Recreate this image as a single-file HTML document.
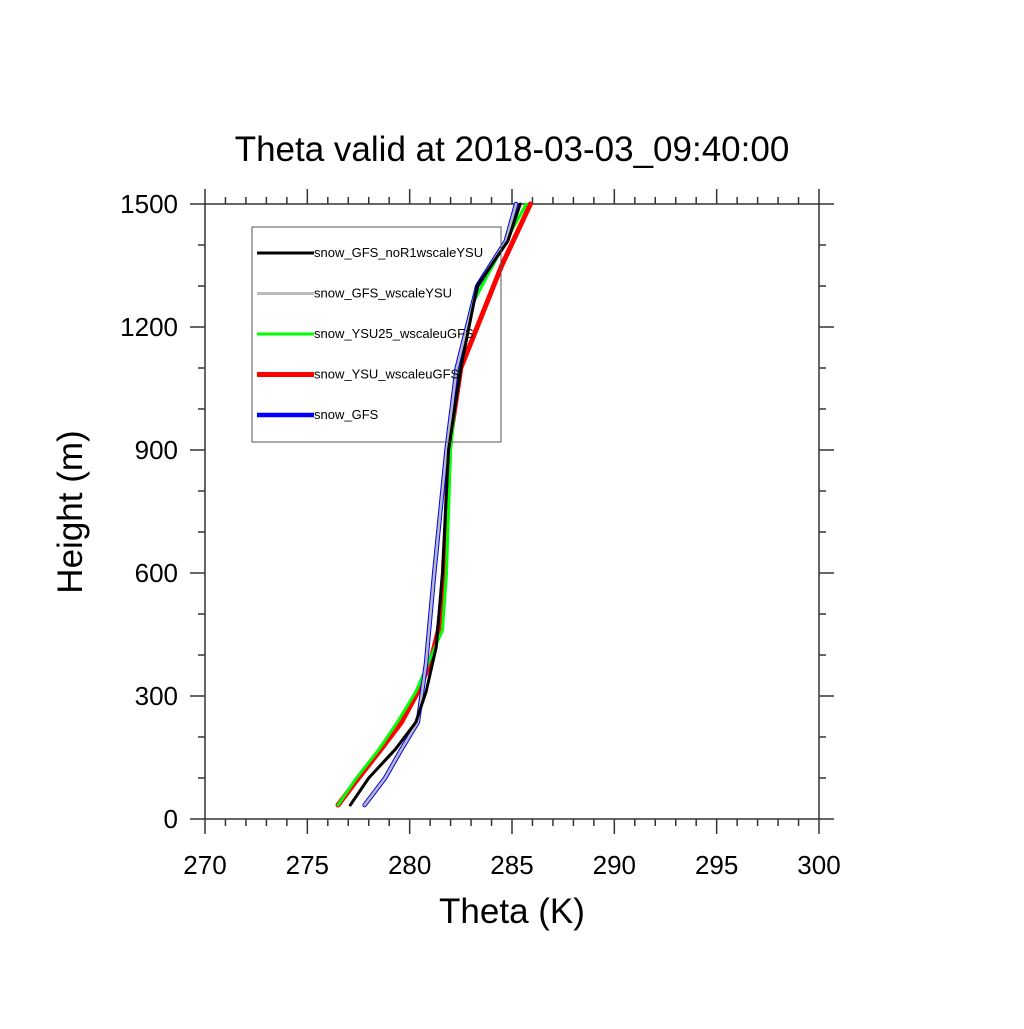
<!DOCTYPE html>
<html><head><meta charset="utf-8"><style>body{margin:0;background:#fff}</style></head>
<body>
<svg id="chart" width="1024" height="1024" xmlns="http://www.w3.org/2000/svg" font-family="Liberation Sans, sans-serif">
<rect width="1024" height="1024" fill="#fff"/>
<text x="512" y="161" font-size="35" text-anchor="middle">Theta valid at 2018-03-03_09:40:00</text>
<text x="512" y="923" font-size="35" text-anchor="middle">Theta (K)</text>
<text x="0" y="0" font-size="35" text-anchor="middle" transform="translate(82,512) rotate(-90)">Height (m)</text>
<g id="axes"></g>
<g id="series"></g>
<g id="legend"></g>
</svg>
<script>
const xTicks=[270,275,280,285,290,295,300];
const yTicks=[0,300,600,900,1200,1500];
const seriesNames=["snow_GFS_noR1wscaleYSU","snow_GFS_wscaleYSU","snow_YSU25_wscaleuGFS","snow_YSU_wscaleuGFS","snow_GFS"];
const blackTheta=[277.1,278.0,279.3,280.3,280.8,281.3,281.6,281.9,282.5,283.3,284.8,285.4];
const blackH=[34,100,170,236,310,420,600,900,1100,1300,1410,1500];
const gfsTheta=[277.8,278.8,279.6,280.4,280.8,281.2,281.8,282.3,283.3,284.7,285.2];
const gfsH=[34,100,170,236,380,600,900,1100,1300,1410,1500];
const greenTheta=[276.5,277.4,278.5,279.4,280.3,280.9,281.6,281.8,282.0,282.4,283.0,284.7,285.7];
const greenH=[34,100,170,236,310,380,460,600,900,1100,1250,1410,1500];
const redTheta=[276.5,277.5,278.6,279.6,280.4,281.0,281.4,281.7,281.9,282.5,283.3,284.5,285.9];
const redH=[34,100,170,236,310,380,460,600,900,1100,1200,1350,1500];

const NS="http://www.w3.org/2000/svg";
const X0=205,X1=819,Y0=819,Y1=204;
const sx=v=>X0+(v-270)/30*(X1-X0);
const sy=v=>Y0-(v/1500)*(Y0-Y1);
function mk(tag,attrs,parent){const e=document.createElementNS(NS,tag);for(const k in attrs)e.setAttribute(k,attrs[k]);parent.appendChild(e);return e;}
const axes=document.getElementById('axes');
const frame=mk('rect',{x:X0,y:Y1,width:X1-X0,height:Y0-Y1,fill:'none',stroke:'#333','stroke-width':1.5},axes);


let d='';
for(let v=270;v<=300;v++){const L=(v%5===0)?15:7;const x=sx(v);d+=`M${x},${Y0}v${L}M${x},${Y1}v${-L}`;}
for(let v=0;v<=1500;v+=100){const L=(v%300===0)?15:7;const y=sy(v);d+=`M${X0},${y}h${-L}M${X1},${y}h${L}`;}
const ticks=mk('path',{d:d,stroke:'#333','stroke-width':1.5,fill:'none'},axes);


xTicks.forEach(v=>{const t=mk('text',{x:sx(v),y:874,'font-size':26,'text-anchor':'middle'},axes);t.textContent=v;

});
yTicks.forEach(v=>{const t=mk('text',{x:178,y:sy(v)+9,'font-size':26,'text-anchor':'end'},axes);t.textContent=v;

});
const ser=document.getElementById('series');
function line(th,h,color,w,name){const p=mk('polyline',{points:th.map((v,i)=>sx(v)+','+sy(h[i])).join(' '),fill:'none',stroke:color,'stroke-width':w,'stroke-linejoin':'round','stroke-linecap':'round'},ser);

}
line(redTheta,redH,'#f00',5,'line-snow-ysu-wscaleugfs');
line(greenTheta,greenH,'#0f0',3,'line-snow-ysu25-wscaleugfs');
line(gfsTheta,gfsH,'#00f',4.5,'line-snow-gfs');
line(gfsTheta,gfsH,'#bbb',2.5,'line-snow-gfs-wscaleysu');
line(blackTheta,blackH,'#000',3,'line-snow-gfs-nor1wscaleysu');
const leg=document.getElementById('legend');
const box=mk('rect',{x:252,y:227,width:249,height:215,fill:'none',stroke:'#555','stroke-width':1},leg);


const lc=['#000','#bbb','#0f0','#f00','#00f'],lw=[3,3,3,5,4.5];
seriesNames.forEach((n,i)=>{const y=253+i*40.5;
const l=mk('line',{x1:257,x2:314,y1:y,y2:y,stroke:lc[i],'stroke-width':lw[i]},leg);


const t=mk('text',{x:314,y:y+4,'font-size':13},leg);t.textContent=n;

});
</script>
</body></html>
